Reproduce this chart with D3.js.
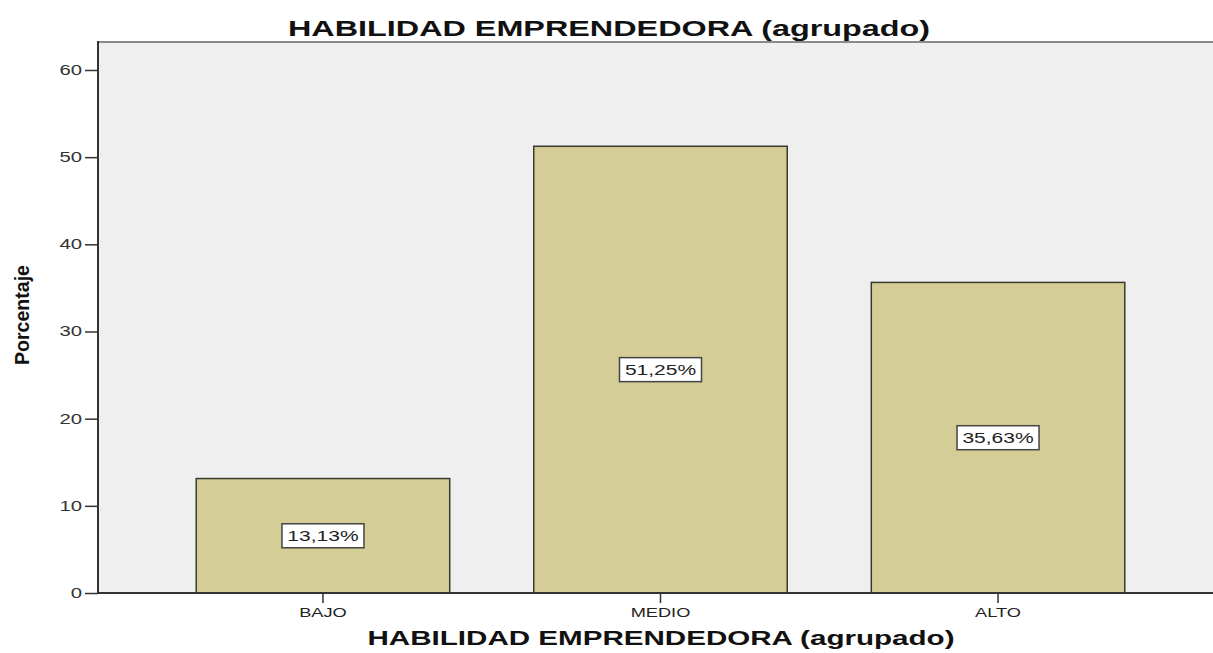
<!DOCTYPE html>
<html>
<head>
<meta charset="utf-8">
<script src="https://cdn.jsdelivr.net/npm/d3@7"></script>
<style>
  body { margin: 0; background: #fff; }
  svg { display: block; }
</style>
</head>
<body>
<svg id="chart" width="1213" height="653"></svg>
<script>
// chart data
const categories = ["BAJO", "MEDIO", "ALTO"];
const percents = [13.13, 51.25, 35.63];
const labels = ["13,13%", "51,25%", "35,63%"];
const yTicks = [0, 10, 20, 30, 40, 50, 60];

const svg = d3.select('#chart');
const plotLeft = 98, plotTop = 42, plotBottom = 593;
const font = 'Liberation Sans, Arial, sans-serif';

// the original text is drawn wider than normal Arial, so stretch it
function stretch(sel, k) {
    sel.each(function() {
        var w = this.getComputedTextLength();
        d3.select(this).attr('textLength', w * k).attr('lengthAdjust', 'spacingAndGlyphs');
    });
}

var x = d3.scaleBand().domain(categories).range([plotLeft, 1223])
    .paddingInner(0.249).paddingOuter(0.291);
var y = d3.scaleLinear().domain([0, 60]).range([plotBottom, 70]);

// plot background
svg.append('rect')
    .attr('x', plotLeft).attr('y', plotTop)
    .attr('width', 1213 - plotLeft).attr('height', plotBottom - plotTop)
    .attr('fill', '#efefef');

// top frame line
svg.append('line')
    .attr('x1', plotLeft).attr('x2', 1213).attr('y1', plotTop).attr('y2', plotTop)
    .attr('stroke', '#8a8a8a').attr('stroke-width', 2);

// bars
svg.append('g').selectAll('rect').data(percents).enter().append('rect')
    .attr('x', function(d, i) { return x(categories[i]) })
    .attr('y', function(d) { return y(d) })
    .attr('width', x.bandwidth())
    .attr('height', function(d) { return plotBottom - y(d) })
    .attr('fill', '#d4cd96')
    .attr('stroke', '#3a3a2e')
    .attr('stroke-width', 1.5);

// value labels in boxes
const lab = svg.append('g').selectAll('g').data(percents).enter().append('g')
    .attr('transform', function(d, i) {
        return 'translate(' + (x(categories[i]) + x.bandwidth() / 2) + ',' + ((y(d) + plotBottom) / 2) + ')';
    });
lab.append('rect')
    .attr('x', -41).attr('y', -12).attr('width', 82).attr('height', 24)
    .attr('fill', '#fff').attr('stroke', '#444').attr('stroke-width', 1.5);
lab.append('text')
    .attr('text-anchor', 'middle').attr('dy', '0.36em')
    .style('font-family', font)
    .style('font-size', '14px').attr('fill', '#222')
    .text(function(d, i) { return labels[i] })
    .call(stretch, 1.5);

// y axis
const yAxis = svg.append('g')
    .attr('transform', 'translate(' + plotLeft + ',0)')
    .call(d3.axisLeft(y).tickValues(yTicks).tickSize(13).tickPadding(3));
yAxis.select('.domain').remove();
yAxis.selectAll('line').attr('stroke', '#333').attr('stroke-width', 1.5);
yAxis.selectAll('text')
    .style('font-family', font)
    .style('font-size', '14px').attr('fill', '#333')
    .call(stretch, 1.45);
svg.append('line')
    .attr('x1', plotLeft).attr('x2', plotLeft).attr('y1', plotTop - 1).attr('y2', plotBottom)
    .attr('stroke', '#333').attr('stroke-width', 2);

// x axis
const xAxis = svg.append('g')
    .attr('transform', 'translate(0,' + plotBottom + ')')
    .call(d3.axisBottom(x).tickSize(10).tickPadding(5));
xAxis.select('.domain').remove();
xAxis.selectAll('line').attr('stroke', '#333').attr('stroke-width', 1.5);
xAxis.selectAll('text')
    .style('font-family', font)
    .style('font-size', '13px').attr('fill', '#222')
    .call(stretch, 1.4);
svg.append('line')
    .attr('x1', plotLeft).attr('x2', 1213).attr('y1', plotBottom).attr('y2', plotBottom)
    .attr('stroke', '#333').attr('stroke-width', 2);

// titles
svg.append('text')
    .attr('x', 609).attr('y', 36).attr('text-anchor', 'middle')
    .style('font-family', font)
    .style('font-weight', 'bold').style('font-size', '22px').attr('fill', '#111')
    .attr('textLength', 642).attr('lengthAdjust', 'spacingAndGlyphs')
    .text('HABILIDAD EMPRENDEDORA (agrupado)');

svg.append('text')
    .attr('x', 661).attr('y', 645).attr('text-anchor', 'middle')
    .style('font-family', font)
    .style('font-weight', 'bold').style('font-size', '21px').attr('fill', '#111')
    .attr('textLength', 587).attr('lengthAdjust', 'spacingAndGlyphs')
    .text('HABILIDAD EMPRENDEDORA (agrupado)');

svg.append('text')
    .attr('transform', 'translate(29,315) rotate(-90)').attr('text-anchor', 'middle')
    .style('font-family', font)
    .style('font-weight', 'bold').style('font-size', '21px').attr('fill', '#111')
    .attr('textLength', 100).attr('lengthAdjust', 'spacingAndGlyphs')
    .text('Porcentaje');
</script>
</body>
</html>
